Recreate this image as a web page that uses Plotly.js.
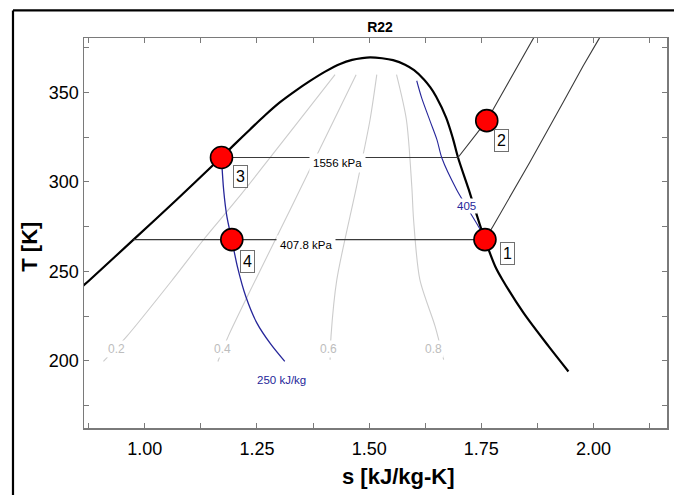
<!DOCTYPE html>
<html>
<head>
<meta charset="utf-8">
<script src="https://cdn.plot.ly/plotly-3.0.1.min.js"></script>
<style>
  html, body { margin: 0; padding: 0; background: #ffffff; }
  #chart { width: 674px; height: 495px; }
</style>
</head>
<body>
<div id="chart"></div>
<script>
// ---------- data ----------
const chartTitle = 'R22';
const xTitle = 's [kJ/kg-K]';
const yTitle = 'T [K]';

// saturation dome (liquid side, critical region, vapour side)
const domeS = [0.85, 0.878, 0.975, 1.071, 1.1701, 1.2012, 1.2347, 1.2681, 1.3016, 1.335, 1.3684, 1.4019, 1.4353, 1.4621, 1.4844, 1.5022,
               1.5288, 1.5533, 1.5801, 1.6001, 1.6226, 1.636, 1.6494, 1.6715, 1.6861, 1.698, 1.722, 1.746, 1.758, 1.781, 1.797, 1.844, 1.900, 1.944];
const domeT = [239, 245.3, 267.7, 290, 313.6, 321.2, 329.3, 337.2, 344.5, 350.7, 356.4, 361.6, 365.9, 368.2, 369.2, 369.6,
               369.1, 368.0, 365.5, 362.4, 357.1, 352.9, 347.6, 335.9, 324.7, 313.6, 295.6, 276.5, 267.7, 252.7, 245.3, 226.7, 208, 194];

// quality lines
const qualityNames = ['0.2', '0.4', '0.6', '0.8'];
const q02S = [0.908, 0.960, 1.062, 1.134, 1.205, 1.424];
const q02T = [199.6, 213.6, 245.3, 268.6, 290, 359.9];
const q04S = [1.163, 1.186, 1.247, 1.324, 1.471];
const q04T = [199.6, 213.6, 245.3, 284.4, 359.9];
const q06S = [1.413, 1.415, 1.428, 1.472, 1.502, 1.517];
const q06T = [200.6, 213.6, 245.3, 297.5, 334.7, 359.9];
const q08S = [1.666, 1.647, 1.613, 1.599, 1.595, 1.583, 1.561];
const q08T = [200.6, 219.2, 245.3, 278.8, 297.5, 334.7, 359.9];
const qualityLabelS = [0.9376, 1.173, 1.409, 1.644];
const qualityLabelT = [206.5, 206.5, 206.5, 206.5];

// isobars
const isobarNames = ['1556 kPa', '407.8 kPa'];
const p1556S = [1.171, 1.698, 1.762, 1.866, 1.888];
const p1556T = [313.6, 313.6, 334.2, 379.8, 390];
const p408S = [0.975, 1.758, 1.776, 1.858, 1.932, 1.977, 2.012, 2.035];
const p408T = [267.7, 267.7, 275.2, 310.9, 344.4, 364.9, 379.9, 390];
const isobarLabelS = [1.4287, 1.3595];
const isobarLabelT = [313.6, 267.7];

// isenthalps
const isenthalpNames = ['250 kJ/kg', '405'];
const h250S = [1.171, 1.176, 1.183, 1.194, 1.207, 1.225, 1.250, 1.280, 1.312];
const h250T = [313.6, 295, 280.7, 267.7, 252, 236, 221, 209.5, 199.6];
const h405S = [1.606, 1.617, 1.636, 1.651, 1.662, 1.695, 1.716, 1.739, 1.750];
const h405T = [356.5, 346.9, 333.8, 323.6, 313.3, 295.6, 286.6, 277, 272.3];
const isenthalpLabelS = [1.3043, 1.7166];
const isenthalpLabelT = [189.4, 286.5];

// state points
const stateNames = ['1', '2', '3', '4'];
const stateS = [1.758, 1.762, 1.171, 1.194];
const stateT = [267.7, 334.2, 313.6, 267.7];

// ---------- styles ----------
const FONT = 'Liberation Sans, Arial, sans-serif';
const QCOL = '#cccccc';
const QTXT = '#bdbdbd';
const PCOL = '#3a3a3a';
const HCOL = '#26269a';
const labelShift = [[23, -14], [15, -20], [19, -19], [16, -22]];

const traces = [];
const qS = [q02S, q04S, q06S, q08S];
const qT = [q02T, q04T, q06T, q08T];
for (let i = 0; i < qS.length; i++) {
  traces.push({x: qS[i], y: qT[i], mode: 'lines', hoverinfo: 'skip',
    line: {color: QCOL, width: 1.1, shape: 'spline', smoothing: 0.8}});
}
traces.push({x: domeS, y: domeT, mode: 'lines', hoverinfo: 'skip',
  line: {color: '#000000', width: 2.2, shape: 'spline', smoothing: 0.9}});
traces.push({x: p1556S, y: p1556T, mode: 'lines', hoverinfo: 'skip',
  line: {color: PCOL, width: 1.1}});
traces.push({x: p408S, y: p408T, mode: 'lines', hoverinfo: 'skip',
  line: {color: PCOL, width: 1.1}});
traces.push({x: h250S, y: h250T, mode: 'lines', hoverinfo: 'skip',
  line: {color: HCOL, width: 1.3, shape: 'spline', smoothing: 0.9}});
traces.push({x: h405S, y: h405T, mode: 'lines', hoverinfo: 'skip',
  line: {color: HCOL, width: 1.1, shape: 'spline', smoothing: 0.8}});
traces.push({x: stateS, y: stateT, mode: 'markers', hoverinfo: 'skip',
  marker: {color: '#ff0000', size: 22, line: {color: '#000000', width: 1.6}}});

const annotations = [];
for (let i = 0; i < qualityNames.length; i++) {
  annotations.push({x: qualityLabelS[i], y: qualityLabelT[i], text: qualityNames[i],
    showarrow: false, bgcolor: '#ffffff', borderpad: 1,
    font: {family: FONT, size: 12, color: QTXT}});
}
for (let i = 0; i < isobarNames.length; i++) {
  annotations.push({x: isobarLabelS[i], y: isobarLabelT[i], text: isobarNames[i],
    showarrow: false, bgcolor: '#ffffff', borderpad: 3, yshift: -5,
    font: {family: FONT, size: 11.5, color: '#000000'}});
}
for (let i = 0; i < isenthalpNames.length; i++) {
  annotations.push({x: isenthalpLabelS[i], y: isenthalpLabelT[i], text: isenthalpNames[i],
    showarrow: false, bgcolor: '#ffffff', borderpad: 1,
    font: {family: FONT, size: 11.5, color: HCOL}});
}
for (let i = 0; i < stateNames.length; i++) {
  annotations.push({x: stateS[i], y: stateT[i], text: stateNames[i],
    xshift: labelShift[i][0], yshift: labelShift[i][1],
    showarrow: false, bgcolor: '#ffffff', bordercolor: '#707070', borderwidth: 1, borderpad: 2,
    font: {family: FONT, size: 16, color: '#000000'}});
}
// axis titles
annotations.push({xref: 'paper', yref: 'paper', x: 0.5386, y: -0.125, text: '<b>' + xTitle + '</b>',
  showarrow: false, xanchor: 'center', yanchor: 'middle', font: {family: FONT, size: 22, color: '#000'}});
annotations.push({xref: 'paper', yref: 'paper', x: -0.0926, y: 0.4649, text: '<b>' + yTitle + '</b>',
  textangle: -90, showarrow: false, xanchor: 'center', yanchor: 'middle', font: {family: FONT, size: 22, color: '#000'}});

const axisCommon = {
  showgrid: false, zeroline: false, showline: true, linecolor: '#7a7a7a', linewidth: 1.5,
  mirror: 'ticks', ticks: 'inside', ticklen: 5, tickwidth: 1, tickcolor: '#7a7a7a',
  tickfont: {family: FONT, size: 18, color: '#000000'}
};

const layout = {
  width: 674, height: 495,
  margin: {l: 84, r: 7, t: 38, b: 67, pad: 0},
  paper_bgcolor: '#ffffff', plot_bgcolor: '#ffffff',
  showlegend: false,
  title: {text: '<b>' + chartTitle + '</b>', font: {family: FONT, size: 14, color: '#000'},
    x: 0.5077, xref: 'paper', xanchor: 'center', y: 1 - 27 / 495, yref: 'container', yanchor: 'middle'},
  xaxis: Object.assign({}, axisCommon, {
    range: [0.8647, 2.1636], tick0: 1, dtick: 0.25, tickformat: '.2f', ticklabelstandoff: 4,
    minor: {tick0: 1, dtick: 0.125, ticks: 'inside', ticklen: 5, tickcolor: '#7a7a7a', tickwidth: 1}
  }),
  yaxis: Object.assign({}, axisCommon, {
    range: [162.4, 380.4], tick0: 200, dtick: 50,
    minor: {tick0: 200, dtick: 25, ticks: 'inside', ticklen: 5, tickcolor: '#7a7a7a', tickwidth: 1}
  }),
  annotations: annotations,
  shapes: [
    {type: 'line', xref: 'paper', yref: 'paper', x0: -0.1218, x1: -0.1218, y0: -0.25, y1: 1.0708,
      line: {color: '#000000', width: 2.2}},
    {type: 'line', xref: 'paper', yref: 'paper', x0: -0.1218, x1: 1.05, y0: 1.0708, y1: 1.0708,
      line: {color: '#000000', width: 2.2}}
  ]
};

Plotly.newPlot('chart', traces, layout, {displayModeBar: false, staticPlot: true});
</script>
</body>
</html>
